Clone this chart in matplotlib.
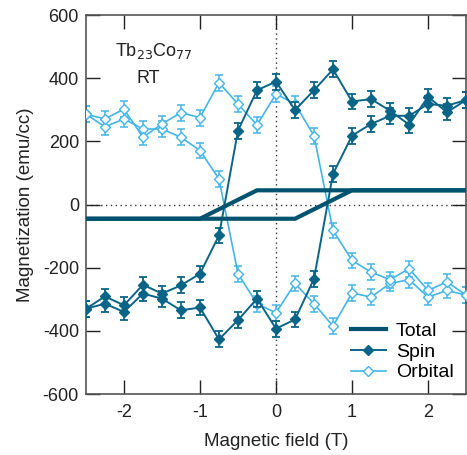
import matplotlib
matplotlib.use("Agg")
import matplotlib.pyplot as plt

plt.rcParams['font.family'] = ['Liberation Sans', 'DejaVu Sans']
plt.rcParams['axes.unicode_minus'] = False

field = [-2.5, -2.25, -2.0, -1.75, -1.5, -1.25, -1.0, -0.75, -0.5, -0.25, 0.0,
         0.25, 0.5, 0.75, 1.0, 1.25, 1.5, 1.75, 2.0, 2.25, 2.5]

# Total magnetization, both sweep directions
total_up = [-45, -45, -45, -45, -45, -45, -45, -15, 15, 45, 45,
            45, 45, 45, 45, 45, 45, 45, 45, 45, 45]
total_down = [-45, -45, -45, -45, -45, -45, -45, -45, -45, -45, -45,
              -45, -15, 15, 45, 45, 45, 45, 45, 45, 45]

# Spin moment, both branches
spin_a = [-330, -291, -319, -254, -282, -256, -219, -98, 234, 362, 389,
          299, 362, 428, 326, 334, 297, 253, 341, 292, 331]
spin_b = [-330, -314, -340, -282, -298, -335, -326, -427, -366, -298, -393,
          -364, -235, 97, 218, 255, 281, 281, 318, 313, 331]

# Orbital moment, both branches
orb_a = [286, 246, 271, 239, 239, 213, 171, 81, -219, -314, -343,
         -250, -314, -385, -280, -293, -250, -238, -293, -272, -287]
orb_b = [286, 271, 302, 213, 255, 291, 275, 386, 318, 252, 350,
         318, 218, -82, -177, -214, -238, -203, -272, -245, -287]

err = [25] * len(field)

c_total = '#00536e'
c_spin = '#0a6488'
c_orb = '#43b5e8'

fig = plt.figure(figsize=(4.67, 4.55), dpi=100)
ax = fig.add_axes([0.184, 0.134, 0.814, 0.833])

ax.axhline(0, color='#333333', ls=(0, (1, 2.5)), lw=1.0, zorder=1)
ax.axvline(0, color='#333333', ls=(0, (1, 2.5)), lw=1.0, zorder=1)

# Orbital branches
for y in (orb_a, orb_b):
    ax.errorbar(field, y, yerr=err, fmt='none', ecolor=c_orb, elinewidth=1.1,
                capsize=3.0, capthick=1.1, zorder=2)
l_orb = None
for y in (orb_a, orb_b):
    l_orb, = ax.plot(field, y, color=c_orb, lw=1.2, marker='D', ms=5.5,
                     mfc='white', mec=c_orb, mew=1.0, zorder=3, label='Orbital')

# Spin branches
for y in (spin_a, spin_b):
    ax.errorbar(field, y, yerr=err, fmt='none', ecolor=c_spin, elinewidth=1.3,
                capsize=3.0, capthick=1.3, zorder=4)
l_spin = None
for y in (spin_a, spin_b):
    l_spin, = ax.plot(field, y, color=c_spin, lw=1.4, marker='D', ms=5.5,
                      mfc=c_spin, mec=c_spin, zorder=5, label='Spin')

# Total hysteresis loop
l_tot = None
for y in (total_up, total_down):
    l_tot, = ax.plot(field, y, color=c_total, lw=3.0, solid_joinstyle='round',
                     zorder=6, label='Total')

ax.set_xlim(-2.5, 2.5)
ax.set_ylim(-600, 600)
ax.set_xticks([-2, -1, 0, 1, 2])
ax.set_yticks([-600, -400, -200, 0, 200, 400, 600])
ax.tick_params(direction='in', length=10, width=1.0, top=True, right=True,
               labelsize=13, colors='#222222')
ax.tick_params(axis='x', pad=7)
ax.tick_params(axis='y', pad=5)
for s in ax.spines.values():
    s.set_color('#555555')
    s.set_linewidth(1.2)

ax.set_xlabel('Magnetic field (T)', fontsize=13.5, color='#222222', labelpad=9)
ax.set_ylabel('Magnetization (emu/cc)', fontsize=13.5, color='#222222', labelpad=6)

ax.text(-1.61, 486, 'Tb$_{23}$Co$_{77}$', fontsize=13, ha='center', va='center',
        color='#222222')
ax.text(-1.68, 398, 'RT', fontsize=13, ha='center', va='center', color='#222222')

leg = ax.legend(handles=[l_tot, l_spin, l_orb], loc='lower right', frameon=False,
                fontsize=14, handlelength=1.8, handletextpad=0.5,
                labelspacing=0.16, borderaxespad=0.25)

fig.savefig('out.png', dpi=100)
